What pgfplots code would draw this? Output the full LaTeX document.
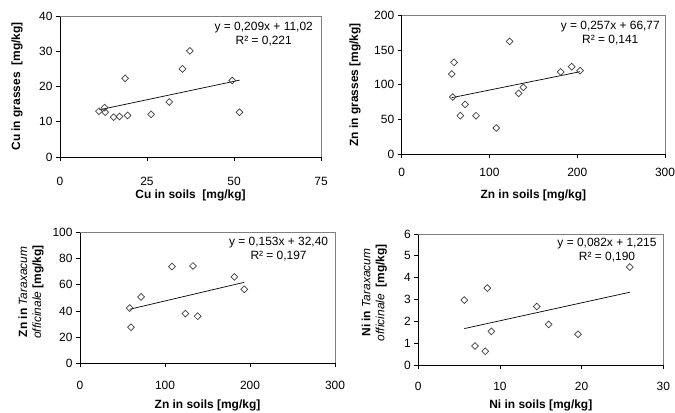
\documentclass[border=0pt]{standalone}
\usepackage{pgfplots}
\pgfplotsset{compat=1.18}
\usepackage{fontspec}
\setmainfont{Liberation Sans}
\definecolor{mk}{HTML}{404040}
\definecolor{fr}{HTML}{808080}
\pgfplotsset{
  myax/.style={
    scale only axis,
    axis lines=left,
    axis line style={-, black, line width=0.8bp},
    tick align=outside,
    major tick length=4bp,
    tick style={black, line width=0.8bp},
    xtick pos=bottom, ytick pos=left,
    font=\fontsize{12}{14}\selectfont,
    /pgf/number format/assume math mode=true,
    clip=false,
    every axis x label/.style={anchor=center, font=\fontsize{12}{14}\selectfont\bfseries},
    every axis y label/.style={rotate=90, anchor=center, font=\fontsize{12}{14}\selectfont\bfseries, align=center},
    after end axis/.code={\draw[fr, line width=0.8bp] (axis description cs:0,1) -- (axis description cs:1,1) -- (axis description cs:1,0);},
  },
  pts/.style={only marks, mark=square, mark size=2.4bp, mark options={rotate=45, draw=mk, fill=white, line width=0.7bp}},
  trend/.style={no marks, black, line width=0.7bp},
}
\begin{document}
\begin{tikzpicture}
\path[use as bounding box] (0,0) rectangle (675bp,413bp);
% Panel 1
\begin{axis}[myax, at={(60bp,256bp)}, anchor=south west, width=261bp, height=141bp,
  xmin=0, xmax=75, ymin=0, ymax=40, xtick={0,25,50,75}, ytick={0,10,20,30,40},
  xticklabel style={yshift=-13bp},
  xlabel={Cu in soils\ \ [mg/kg]}, ylabel={Cu in grasses\ \ [mg/kg]},
  x label style={at={([yshift=-38bp]axis description cs:0.5,0)}},
  y label style={at={([xshift=-43bp]axis description cs:0,0.5)}}]
\addplot[trend] coordinates {(11.2,13.36) (51.6,21.80)};
\addplot[pts] coordinates {(11.2,13.0)(12.8,14.0)(13.0,12.7)(15.4,11.3)(17.1,11.5)(19.4,11.8)(18.7,22.3)(26.2,12.1)(31.4,15.6)(35.2,25.0)(37.3,30.1)(49.5,21.7)(51.6,12.7)};
\node[anchor=north east, align=center, inner sep=0pt, font=\fontsize{12}{14.5}\selectfont] at ([xshift=-8bp,yshift=-6bp]axis description cs:1,1) {y = 0,209x + 11,02\\R² = 0,221};
\end{axis}
% Panel 2
\begin{axis}[myax, at={(401.7bp,259bp)}, anchor=south west, width=263.3bp, height=138.3bp,
  xmin=0, xmax=300, ymin=0, ymax=200, xtick={0,100,200,300}, ytick={0,50,100,150,200},
  xticklabel style={yshift=-7bp},
  xlabel={Zn in soils [mg/kg]}, ylabel={Zn in grasses [mg/kg]},
  x label style={at={([yshift=-41bp]axis description cs:0.5,0)}},
  y label style={at={([xshift=-46.7bp]axis description cs:0,0.5)}}]
\addplot[trend] coordinates {(57,81.42) (203.2,118.99)};
\addplot[pts] coordinates {(57.0,115.7)(59.6,132.5)(58.1,82.4)(72.2,71.8)(66.8,55.4)(84.7,55.4)(107.8,37.6)(123.0,162.9)(133.3,87.7)(138.6,96.4)(181.1,118.6)(193.7,126.3)(203.2,120.5)};
\node[anchor=north east, align=center, inner sep=0pt, font=\fontsize{12}{14.5}\selectfont] at ([xshift=-5bp,yshift=-5bp]axis description cs:1,1) {y = 0,257x + 66,77\\R² = 0,141};
\end{axis}
% Panel 3
\begin{axis}[myax, at={(80bp,49.7bp)}, anchor=south west, width=255bp, height=130.7bp,
  xmin=0, xmax=300, ymin=0, ymax=100, xtick={0,100,200,300}, ytick={0,20,40,60,80,100},
  xticklabel style={yshift=-10bp},
  xlabel={Zn in soils [mg/kg]}, ylabel={Zn in \textmd{\textit{Taraxacum}}\\\textmd{\textit{officinale}} [mg/kg]},
  x label style={at={([yshift=-42bp]axis description cs:0.5,0)}},
  y label style={at={([xshift=-49bp,yshift=6bp]axis description cs:0,0.5)}}]
\addplot[trend] coordinates {(58.4,41.34) (193.3,61.97)};
\addplot[pts] coordinates {(58.4,42.3)(60.0,27.6)(71.8,50.8)(108.2,74.0)(132.9,74.5)(123.9,38.0)(138.4,36.0)(181.6,66.1)(193.3,56.6)};
\node[anchor=north east, align=center, inner sep=0pt, font=\fontsize{12}{14.5}\selectfont] at ([xshift=-6.7bp,yshift=-4bp]axis description cs:1,1) {y = 0,153x + 32,40\\R² = 0,197};
\end{axis}
% Panel 4
\begin{axis}[myax, at={(418.3bp,47.7bp)}, anchor=south west, width=245bp, height=131.3bp,
  xmin=0, xmax=30, ymin=0, ymax=6, xtick={0,10,20,30}, ytick={0,1,2,3,4,5,6},
  xticklabel style={yshift=-9bp},
  xlabel={Ni in soils [mg/kg]}, ylabel={Ni in \textmd{\textit{Taraxacum}}\\\textmd{\textit{officinale}}\ \ [mg/kg]},
  x label style={at={([yshift=-40bp]axis description cs:0.5,0)}},
  y label style={at={([xshift=-44bp,yshift=7bp]axis description cs:0,0.5)}}]
\addplot[trend] coordinates {(5.63,1.677) (25.9,3.339)};
\addplot[pts] coordinates {(5.63,2.98)(6.94,0.88)(8.2,0.64)(8.45,3.53)(8.94,1.55)(14.5,2.69)(15.96,1.87)(19.55,1.42)(25.9,4.49)};
\node[anchor=north east, align=center, inner sep=0pt, font=\fontsize{12}{14.5}\selectfont] at ([xshift=-6.6bp,yshift=-4bp]axis description cs:1,1) {y = 0,082x + 1,215\\R² = 0,190};
\end{axis}
\end{tikzpicture}
\end{document}
